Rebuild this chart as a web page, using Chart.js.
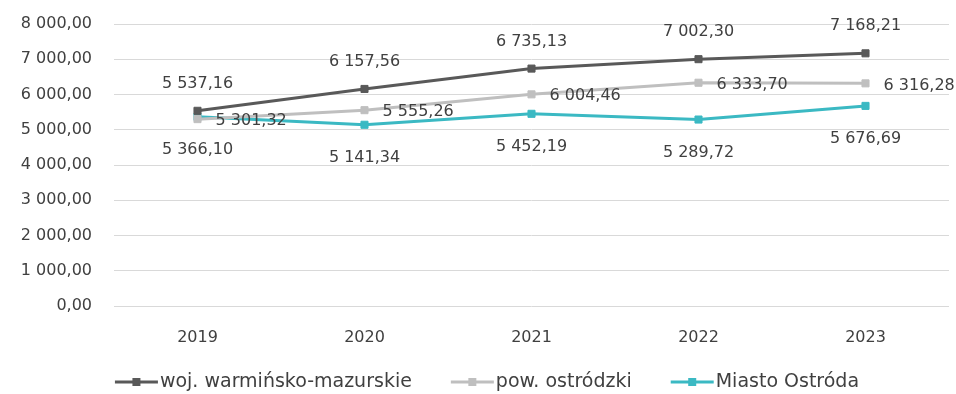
<!DOCTYPE html>
<html>
<head>
<meta charset="utf-8">
<script src="https://cdn.jsdelivr.net/npm/chart.js@4"></script>
<style>
  html, body { margin: 0; padding: 0; background: #fff; }
  #wrap { width: 956px; height: 394px; }
</style>
</head>
<body>
<div id="wrap"><canvas id="wykres"></canvas></div>
<script>
// dane
const lata = ['2019', '2020', '2021', '2022', '2023'];
const wojewodztwo = [5537.16, 6157.56, 6735.13, 7002.30, 7168.21];
const powiat = [5301.32, 5555.26, 6004.46, 6333.70, 6316.28];
const miasto = [5366.10, 5141.34, 5452.19, 5289.72, 5676.69];
const nazwy = ['woj. warmińsko-mazurskie', 'pow. ostródzki', 'Miasto Ostróda'];
const kolory = ['#595959', '#BFBFBF', '#3BB9C3'];
const osY = { min: 0, max: 8000, krok: 1000 };

const FONT = '"DejaVu Sans", sans-serif';
const TEKST = '#404040';

// 5537.16 -> "5 537,16"
function formatuj(v) {
    const [c, d] = Number(v).toFixed(2).split('.');
    return c.replace(/\B(?=(\d{3})+(?!\d))/g, ' ') + ',' + d;
}

// gdzie stoi etykieta wartosci wzgledem punktu (nad / z prawej / pod)
const etykiety = [
    { dx: 0, dy: -27, align: 'center' },
    { dx: 18, dy: 2, align: 'left' },
    { dx: 0, dy: 33, align: 'center' }
];

const etykietyPlugin = {
    id: 'etykiety',
    afterDatasetsDraw(chart) {
        const ctx = chart.ctx;
        ctx.save();
        ctx.font = '16px ' + FONT;
        ctx.fillStyle = TEKST;
        ctx.textBaseline = 'middle';
        chart.data.datasets.forEach((ds, i) => {
            const poz = etykiety[i];
            chart.getDatasetMeta(i).data.forEach((pt, j) => {
                ctx.textAlign = poz.align;
                ctx.fillText(formatuj(ds.data[j]), pt.x + poz.dx, pt.y + poz.dy);
            });
        });
        ctx.restore();
    }
};

// legenda: linia z kwadratem + tekst
const legendaPlugin = {
    id: 'legenda',
    afterDraw(chart) {
        const ctx = chart.ctx;
        const y = 382, linia = 43, odstep = 2, przerwa = 39, srodek = 487;
        ctx.save();
        ctx.font = '19px ' + FONT;
        const szer = chart.data.datasets.map(ds => linia + odstep + ctx.measureText(ds.label).width);
        let x = srodek - (szer.reduce((a, b) => a + b, 0) + przerwa * (szer.length - 1)) / 2;
        chart.data.datasets.forEach((ds, i) => {
            ctx.strokeStyle = ds.borderColor;
            ctx.lineWidth = 3;
            ctx.beginPath();
            ctx.moveTo(x, y);
            ctx.lineTo(x + linia, y);
            ctx.stroke();
            ctx.fillStyle = ds.borderColor;
            ctx.fillRect(x + linia / 2 - 4, y - 4, 8, 8);
            ctx.fillStyle = TEKST;
            ctx.textAlign = 'left';
            ctx.textBaseline = 'middle';
            ctx.fillText(ds.label, x + linia + odstep, y);
            x += szer[i] + przerwa;
        });
        ctx.restore();
    }
};

const serie = [wojewodztwo, powiat, miasto];

new Chart(document.getElementById('wykres'), {
    type: 'line',
    data: {
        labels: lata,
        datasets: serie.map((dane, i) => ({
            label: nazwy[i],
            data: dane,
            borderColor: kolory[i],
            backgroundColor: kolory[i],
            borderWidth: 3,
            pointStyle: 'rect',
            pointRadius: 5,
            pointBorderWidth: 1,
            pointHoverRadius: 5,
            tension: 0
        }))
    },
    options: {
        responsive: true,
        maintainAspectRatio: false,
        animation: false,
        layout: { padding: { top: 24, right: 7, bottom: 0, left: 0 } },
        plugins: {
            legend: { display: false },
            tooltip: { enabled: false }
        },
        scales: {
            x: {
                offset: true,
                grid: { display: false, drawTicks: false },
                border: { display: false },
                ticks: { color: TEKST, font: { family: FONT, size: 16 }, padding: 22 },
                afterFit(s) { s.height = 88; }
            },
            y: {
                min: osY.min,
                max: osY.max,
                grid: { color: '#D9D9D9', lineWidth: 1, drawTicks: false },
                border: { display: false },
                ticks: {
                    stepSize: osY.krok,
                    color: TEKST,
                    font: { family: FONT, size: 16 },
                    padding: 22,
                    callback: v => formatuj(v)
                },
                afterFit(s) {
                    s.width = 114;
                    // padding ticków nie ma przesuwać obszaru wykresu w pionie
                    s.paddingTop = 0;
                    s.paddingBottom = 0;
                }
            }
        }
    },
    plugins: [etykietyPlugin, legendaPlugin]
});
</script>
</body>
</html>
